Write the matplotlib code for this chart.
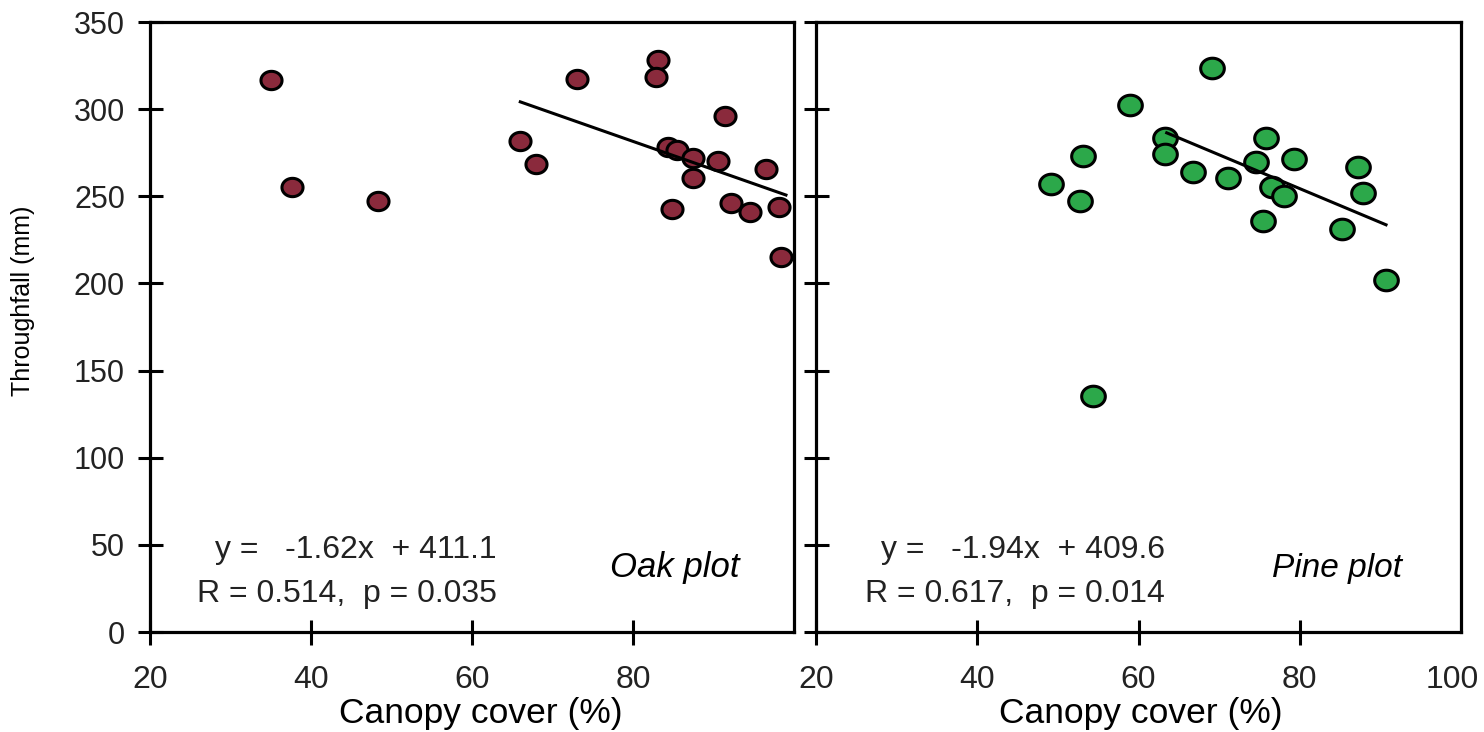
import numpy as np
import matplotlib
matplotlib.use("Agg")
import matplotlib.pyplot as plt
from matplotlib.path import Path
from matplotlib.transforms import ScaledTranslation

# ---------------- data ----------------
oak_cover = [35.0, 37.7, 48.3, 73.0, 83.1, 82.8, 66.0, 67.9, 91.4, 84.4,
             85.5, 87.5, 87.5, 90.6, 96.5, 84.8, 92.2, 94.5, 98.1, 98.4]
oak_tf = [316.7, 255.5, 247.5, 317.1, 328.2, 318.6, 281.5, 268.5, 296.0, 278.5,
          276.5, 271.8, 260.3, 270.2, 265.5, 242.7, 246.0, 240.8, 244.0, 215.0]

pine_cover = [69.1, 58.9, 63.3, 63.3, 53.1, 49.2, 52.7, 66.8, 54.3, 71.1,
              75.8, 74.6, 79.3, 76.5, 78.1, 75.4, 87.2, 87.9, 85.2, 90.7]
pine_tf = [323.4, 302.3, 283.2, 274.2, 273.1, 257.0, 247.3, 263.7, 135.6, 260.3,
           283.2, 269.8, 271.6, 255.5, 250.1, 236.0, 266.8, 251.9, 231.0, 202.0]

oak_slope, oak_icpt = -1.62, 411.1
pine_slope, pine_icpt = -1.94, 409.6
oak_fit_range = [66.0, 99.0]
pine_fit_range = [63.5, 90.7]

oak_eq = "y =   -1.62x  + 411.1"
oak_stat = "R = 0.514,  p = 0.035"
pine_eq = "y =   -1.94x  + 409.6"
pine_stat = "R = 0.617,  p = 0.014"

y_ticks = [0, 50, 100, 150, 200, 250, 300, 350]
oak_xticks = [20, 40, 60, 80]
pine_xticks = [20, 40, 60, 80, 100]

# ---------------- style ----------------
plt.rcParams['font.family'] = ['Liberation Sans', 'DejaVu Sans']
TXT = '#222222'
oak_color = '#8a2a3c'
pine_color = '#2ca84a'

theta = np.linspace(0, 2 * np.pi, 80)
ell = Path(np.column_stack([np.cos(theta), 0.87 * np.sin(theta)]), closed=True)

fig = plt.figure(figsize=(14.84, 7.32), dpi=100)
W, H = 1484, 732
def px_axes(x0, x1, ytop, ybot):
    return fig.add_axes([x0 / W, 1 - ybot / H, (x1 - x0) / W, (ybot - ytop) / H])

ax1 = px_axes(150, 794, 22, 632)
ax2 = px_axes(816, 1461, 22, 632)

panels = [
    (ax1, oak_cover, oak_tf, oak_color, 230, oak_slope, oak_icpt, oak_fit_range,
     oak_eq, oak_stat, "Oak plot", oak_xticks, True, 0.539, 0.916, 0.514, 25),
    (ax2, pine_cover, pine_tf, pine_color, 290, pine_slope, pine_icpt, pine_fit_range,
     pine_eq, pine_stat, "Pine plot", pine_xticks, False, 0.541, 0.909, 0.504, 24),
]

for (ax, xs, ys, col, s, slope, icpt, rng, eq, stat, name, xt, ylab,
     tx, nx, lx, nfs) in panels:
    ax.scatter(xs, ys, s=s, marker=ell, facecolor=col, edgecolor='black',
               linewidths=2.2, zorder=3, clip_on=False)
    fx = np.array(rng)
    ax.plot(fx, slope * fx + icpt, color='black', lw=2.2, zorder=4)
    ax.set_xlim(20, 100)
    ax.set_ylim(0, 350)
    ax.set_xticks(xt)
    ax.set_yticks(y_ticks)
    for sp in ax.spines.values():
        sp.set_linewidth(2.3)
        sp.set_color('black')
    ax.tick_params(axis='both', direction='inout', length=18, width=2.2,
                   colors='black', labelcolor=TXT)
    ax.tick_params(axis='x', pad=15, labelsize=23)
    ax.tick_params(axis='y', pad=9, labelsize=22)
    if not ylab:
        ax.tick_params(axis='y', labelleft=False)
    ax.set_xlabel("Canopy cover (%)", fontsize=25.5, color='black')
    ax.xaxis.set_label_coords(lx, -0.106)
    ax.text(tx, 0.121, eq, transform=ax.transAxes, ha='right', va='baseline',
            fontsize=23, color=TXT)
    ax.text(tx, 0.049, stat, transform=ax.transAxes, ha='right', va='baseline',
            fontsize=23, color=TXT)
    ax.text(nx, 0.090, name, transform=ax.transAxes, ha='right', va='baseline',
            fontsize=nfs, style='italic', color='black')

last = ax2.xaxis.get_major_ticks()[-1]
last.tick1line.set_visible(False)
last.tick2line.set_visible(False)
last.label1.set_transform(last.label1.get_transform() +
                          ScaledTranslation(-9 / 100, 0, fig.dpi_scale_trans))

ax1.set_ylabel("Throughfall (mm)", fontsize=18, color='black')
ax1.yaxis.set_label_coords(-0.179, 0.543)

fig.savefig("out.png", dpi=100, facecolor='white')
